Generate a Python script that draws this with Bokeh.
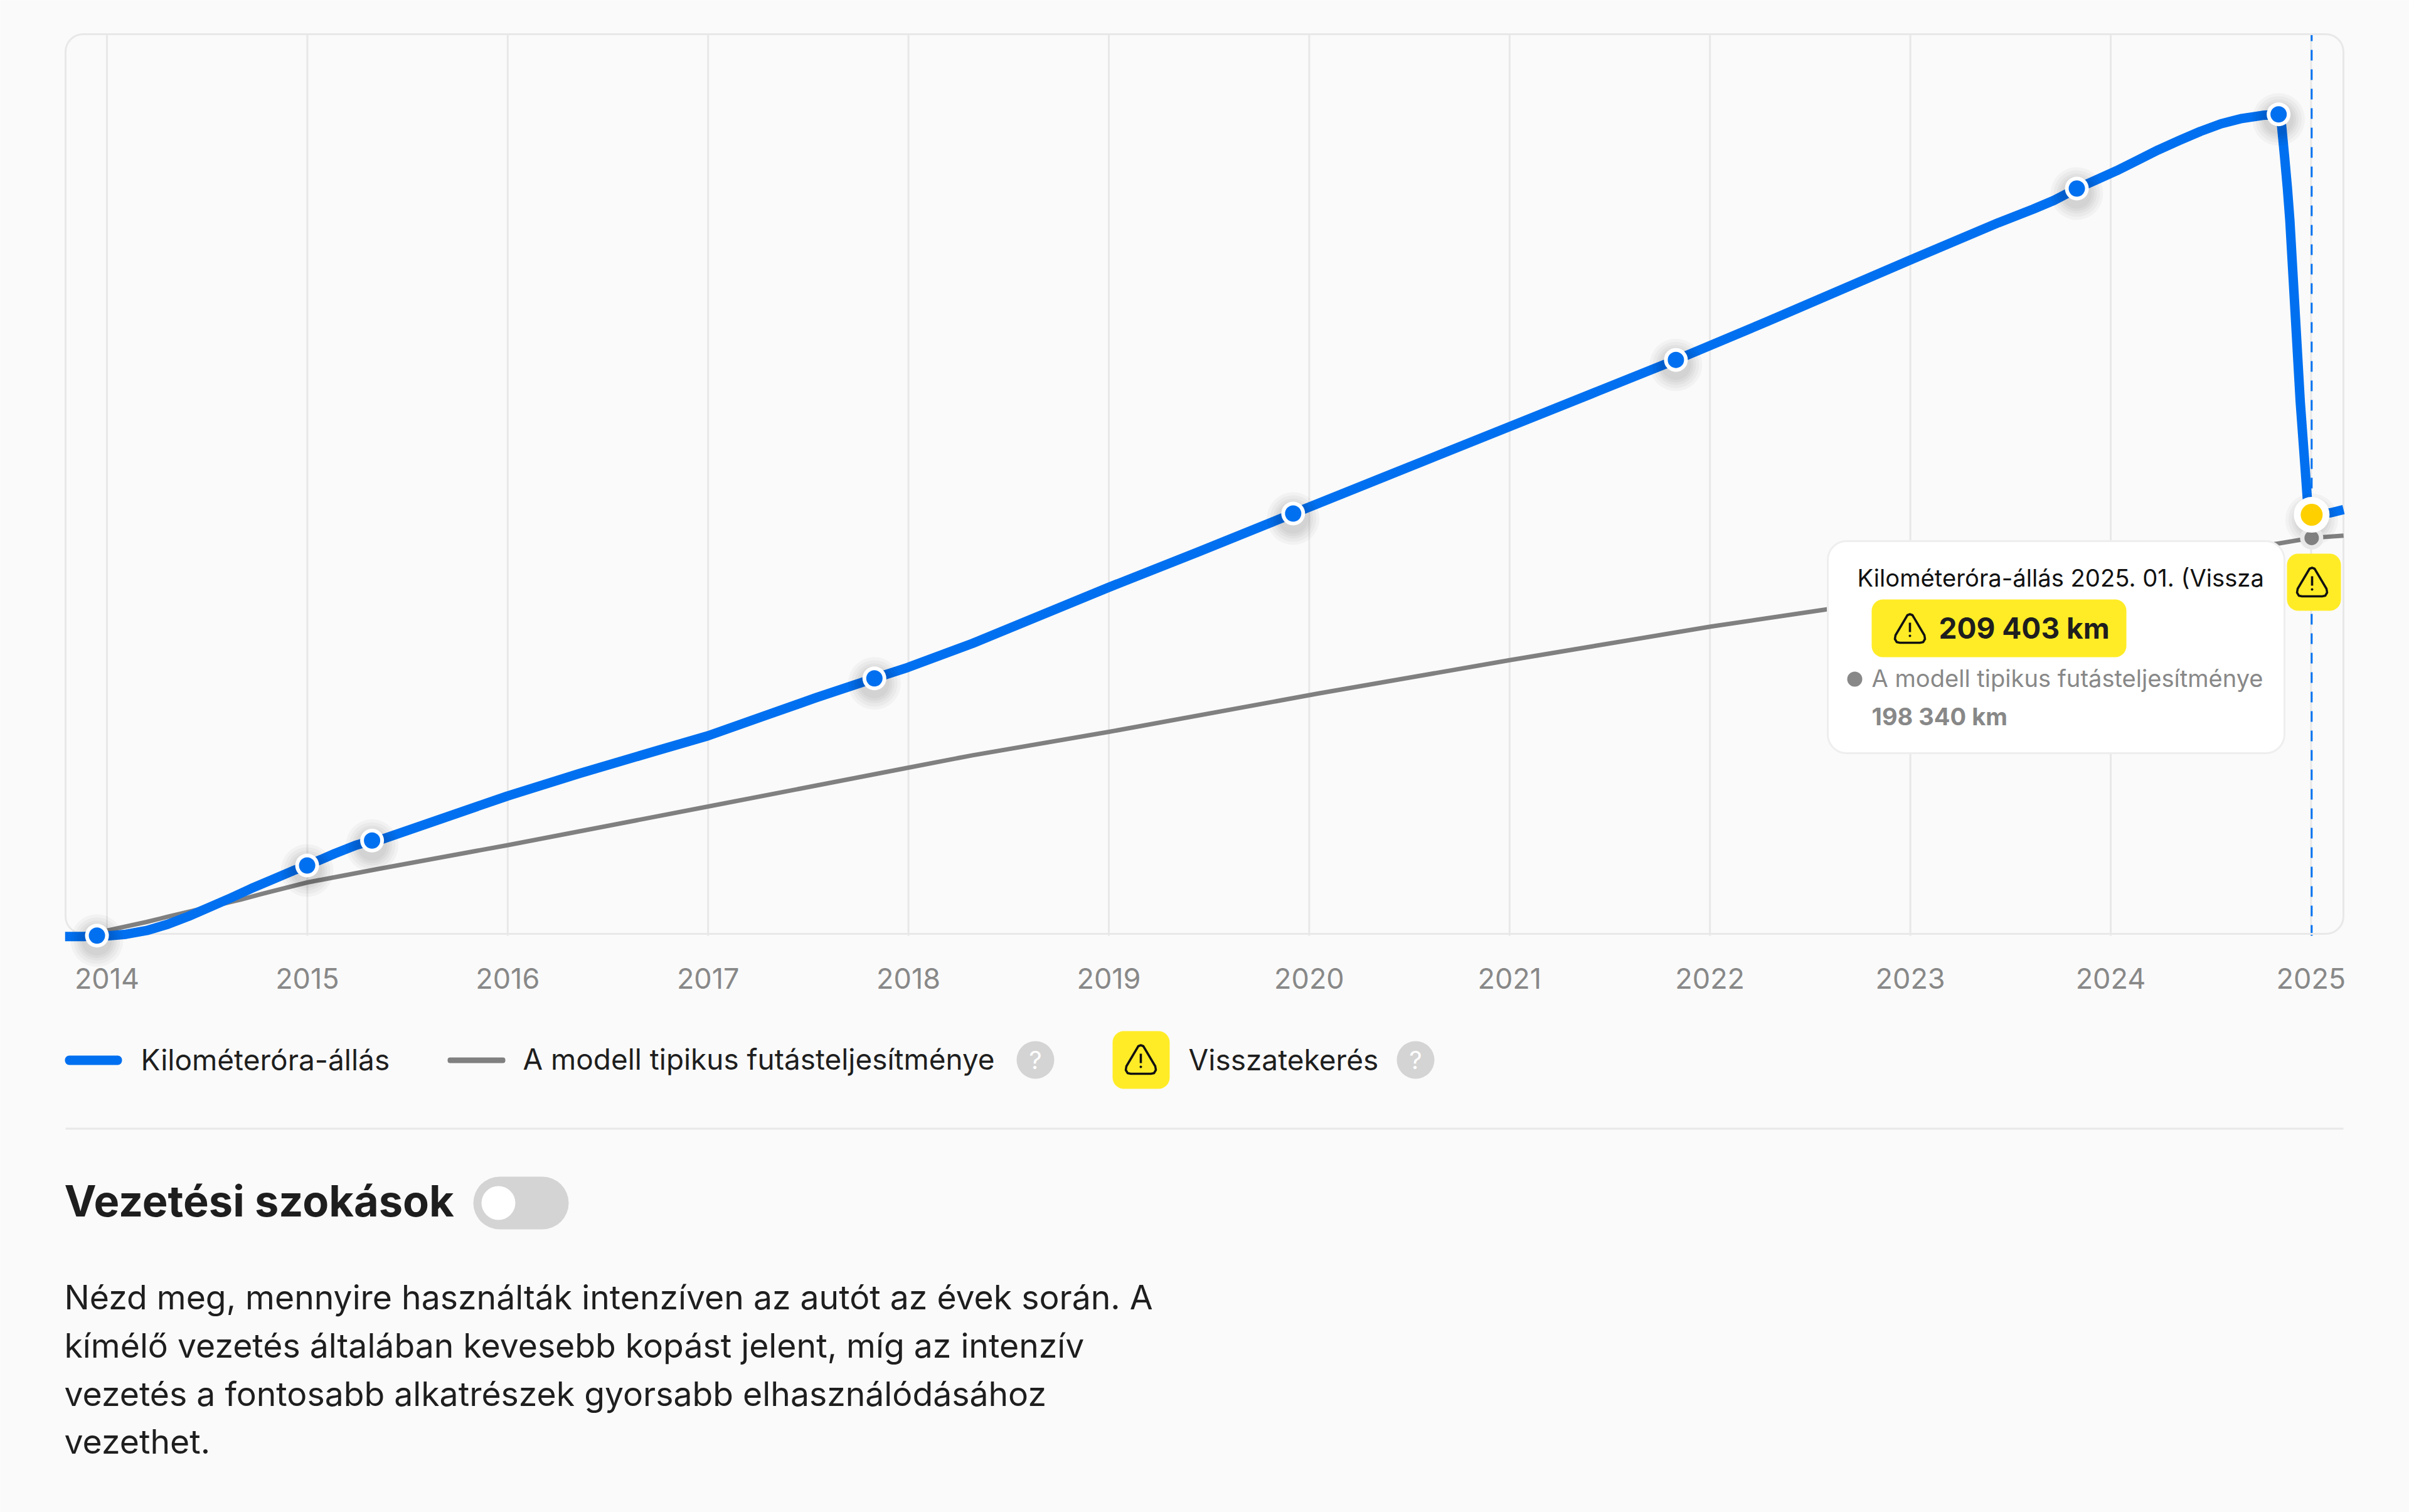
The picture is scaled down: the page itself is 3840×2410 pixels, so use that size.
from bokeh.plotting import figure
from bokeh.models import BoxAnnotation, Label, PolyAnnotation, FixedTicker, Range1d
from bokeh.embed import file_html
from bokeh.resources import INLINE

# ---- data ----
tick_years = [2014, 2015, 2016, 2017, 2018, 2019, 2020, 2021, 2022, 2023, 2024, 2025]

odo_years = [2013.791, 2013.885, 2013.95, 2014.01, 2014.094, 2014.198, 2014.303, 2014.407, 2014.511, 2014.616,
             2014.72, 2014.824, 2014.929, 2014.999, 2015.137, 2015.242, 2015.323, 2015.378, 2015.998, 2016.358,
             2016.755, 2017.0, 2017.277, 2017.538, 2017.83, 2017.997, 2018.32, 2018.997, 2019.448, 2019.92,
             2020.37, 2020.997, 2021.44, 2021.83, 2022.29, 2023.0, 2023.44, 2023.612, 2023.716, 2023.831,
             2023.925, 2024.029, 2024.134, 2024.238, 2024.342, 2024.447, 2024.551, 2024.655, 2024.759, 2024.838,
             2024.853, 2024.868, 2024.882, 2024.894, 2024.946, 2024.969, 2024.981, 2025.003, 2025.099, 2025.162]
odo_km = [7713, 7713, 8193, 8103, 8793, 10593, 13593, 17403, 21693, 26103,
          30693, 34893, 39213, 41703, 47403, 51393, 53613, 54393, 74913, 85713,
          96903, 103713, 113100, 121900, 131193, 136413, 147903, 174603, 191703, 210000,
          227330, 251430, 268470, 283460, 301975, 331216, 349070, 355500, 359700, 365403,
          369393, 373893, 378903, 383913, 388413, 392703, 396393, 398913, 400413, 400893,
          395403, 380403, 365403, 350403, 263403, 233403, 217413, 209403, 210393, 211893]

model_years = [2013.95, 2014.005, 2014.198, 2014.303, 2014.459, 2014.668, 2014.772, 2015.0, 2015.346, 2015.998,
               2017.0, 2017.997, 2018.32, 2019.0, 2020.043, 2021.0, 2022.003, 2022.578, 2024.838, 2025.003, 2025.162]
model_km = [8193, 10713, 14703, 17193, 20703, 25413, 28113, 33603, 39903, 51393,
            69903, 88413, 94403, 105603, 123903, 139893, 155913, 164103, 195693, 198340, 199413]

point_years = [2013.95, 2014.999, 2015.323, 2017.83, 2019.92, 2021.83, 2023.831, 2024.838]
point_km = [8193, 41703, 53613, 131193, 210000, 283460, 365403, 400893]

rollback_year = [2025.003]
rollback_km = [209403]
model_now_km = [198340]

tooltip_title = "Kilométeróra-állás 2025. 01. (Vissza"
tooltip_value = "209 403 km"
tooltip_model_name = "A modell tipikus futásteljesítménye"
tooltip_model_value = "198 340 km"
legend_odo = "Kilométeróra-állás"
legend_model = "A modell tipikus futásteljesítménye"
legend_rollback = "Visszatekerés"
section_title = "Vezetési szokások"
paragraph = ["Nézd meg, mennyire használták intenzíven az autót az évek során. A",
             "kímélő vezetés általában kevesebb kopást jelent, míg az intenzív",
             "vezetés a fontosabb alkatrészek gyorsabb elhasználódásához",
             "vezethet."]

# ---- style ----
BG = "#fafafa"; GRID = "#e8e8e8"; BLUE = "#0070f0"; GRAY = "#808080"; YELLOW = "#ffec26"
AMBER = "#ffd000"; INK = "#1e1e1e"; MUTED = "#888888"; PILL = "#d4d4d4"; FONT = "Inter"
KM_PER_PX = 300.0

def X(v): return v
def Y(v): return v

p = figure(width=3840, height=2410, output_backend="svg", toolbar_location=None,
           x_range=Range1d(2013.4677, 2025.4903), y_range=Range1d(-267597, 455403),
           min_border_left=0, min_border_right=0, min_border_top=0, min_border_bottom=0,
           y_axis_location=None,
           background_fill_color=BG, border_fill_color=BG, outline_line_color=None)
p.grid.visible = False
ax = p.xaxis[0]
ax.fixed_location = -597
ax.ticker = FixedTicker(ticks=tick_years)
ax.major_label_overrides = {y: str(y) for y in tick_years}
ax.axis_line_color = None
ax.major_tick_line_color = None
ax.minor_tick_line_color = None
ax.major_label_text_font = FONT
ax.major_label_text_font_size = "45px"
ax.major_label_text_color = MUTED
ax.major_label_standoff = 16

def box(l, r, t, b, color, radius=0, line=None, lw=0, level="annotation"):
    p.add_layout(BoxAnnotation(left=X(l), right=X(r), top=Y(t), bottom=Y(b),
                               left_units="canvas", right_units="canvas", top_units="canvas", bottom_units="canvas",
                               fill_color=color, fill_alpha=1 if color else 0, line_color=line, line_alpha=1,
                               line_width=lw, border_radius=radius, level=level))

def text(x, y, s, size, color, bold=False, align="left"):
    p.add_layout(Label(x=X(x), y=Y(y), x_units="canvas", y_units="canvas", text=s, text_font=FONT,
                       text_font_size=f"{size}px", text_color=color, text_baseline="middle", text_align=align,
                       text_font_style="bold" if bold else "normal"))

ICON = [(-4, -22), (0, -23.5), (4, -22), (23, 10), (24, 16), (21, 21), (16, 22),
        (-16, 22), (-21, 21), (-24, 16), (-23, 10)]

def warning(cx, cy):
    p.add_layout(PolyAnnotation(xs=[X(cx + a) for a, b in ICON], ys=[Y(cy + b) for a, b in ICON],
                                xs_units="canvas", ys_units="canvas", fill_alpha=0,
                                line_color="#111111", line_alpha=1, line_width=3.5, line_join="round"))
    box(cx - 1.8, cx + 1.8, cy - 10, cy + 5, "#111111")
    box(cx - 2, cx + 2, cy + 9, cy + 13, "#111111", radius=2)

# frame and year lines
box(104, 3735, 54, 1488, None, radius=28, line=GRID, lw=3, level="underlay")
bottom_km = 8100.0
top_km = 439000.0
p.segment(x0=tick_years, y0=[bottom_km] * len(tick_years), x1=tick_years, y1=[top_km] * len(tick_years),
          line_color=GRID, line_width=3, level="underlay")
p.line(rollback_year * 2, [bottom_km, top_km], line_color=BLUE, line_width=3,
       line_dash=[17, 14], level="underlay")

# series
p.line(model_years, model_km, line_color=GRAY, line_width=7, line_join="round")
p.line(odo_years, odo_km, line_color=BLUE, line_width=15, line_join="round")

# soft marker shadows
drop = 8 * KM_PER_PX
all_years = point_years + rollback_year
all_km = [v - drop for v in point_km + rollback_km]
for s in (84, 74, 64, 56, 48):
    p.scatter(all_years, all_km, size=s, fill_color="#000000", fill_alpha=0.03, line_color=None)

# markers
p.scatter(rollback_year, model_now_km, size=37, fill_color="#e8e8e8", line_color=None)
p.scatter(rollback_year, model_now_km, size=23, fill_color=GRAY, line_color=None)
p.scatter(point_years, point_km, size=38, fill_color="#ffffff", line_color=None)
p.scatter(point_years, point_km, size=26, fill_color=BLUE, line_color=None)
p.scatter(rollback_year, rollback_km, size=57, fill_color="#ffffff", line_color=None)
p.scatter(rollback_year, rollback_km, size=35, fill_color=AMBER, line_color=None)

# rollback badge on the chart
box(3645, 3731, 882, 973, YELLOW, radius=18)
warning(3685, 928)

# tooltip
box(2913, 3641, 862, 1200, "#ffffff", radius=30, line="#eeeeee", lw=3)
text(2960, 920, tooltip_title, 38.2, "#111111")
box(2983, 3389, 955, 1047, YELLOW, radius=18)
warning(3044, 1002)
text(3090, 1000, tooltip_value, 46, INK, bold=True)
box(2944, 2968, 1070, 1094, MUTED, radius=12)
text(2983, 1080, tooltip_model_name, 38.1, MUTED)
text(2983, 1141, tooltip_model_value, 38, MUTED, bold=True)

# legend
box(103, 194, 1682, 1697, BLUE, radius=7)
text(224, 1688, legend_odo, 46, INK)
box(713, 805, 1685, 1694, GRAY, radius=4)
text(833, 1688, legend_model, 45.9, INK)
box(1620, 1680, 1659, 1719, PILL, radius=30)
text(1650, 1689, "?", 40, "#ffffff", align="center")
box(1773, 1864, 1643, 1735, YELLOW, radius=18)
warning(1818, 1689)
text(1894, 1688, legend_rollback, 46, INK)
box(2226, 2286, 1659, 1719, PILL, radius=30)
text(2256, 1689, "?", 40, "#ffffff", align="center")

# divider
box(104, 3735, 1797, 1800, GRID)

# section header
text(102, 1914, section_title, 68.5, INK, bold=True)
box(754, 906, 1875, 1959, PILL, radius=42)
box(767, 821, 1890, 1944, "#ffffff", radius=27)

# paragraph
for py, line in zip((2067, 2144, 2221, 2297), paragraph):
    text(102, py, line, 53.5, INK)

open("out.html", "w").write(file_html(p, INLINE))
